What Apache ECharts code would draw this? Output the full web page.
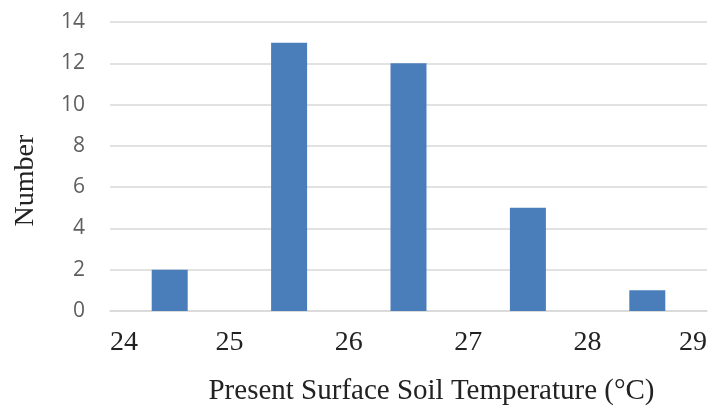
<!DOCTYPE html>
<html>
<head>
<meta charset="utf-8">
<script src="https://cdn.jsdelivr.net/npm/echarts@6/dist/echarts.min.js"></script>
<style>
  html, body { margin: 0; padding: 0; background: #fff; }
  #chart { width: 716px; height: 417px; }
</style>
</head>
<body>
<div id="chart"></div>
<script>
// bin centres (°C) and counts
const binCenters = [24.5, 25.5, 26.5, 27.5, 28.5];
const counts = [2, 13, 12, 5, 1];
const xTicks = [24, 25, 26, 27, 28, 29];
const yTicks = [0, 2, 4, 6, 8, 10, 12, 14];

const myChart = echarts.init(document.getElementById('chart'));
const option = {
    animation: false,
    grid: { left: 110, right: 9, top: 22, bottom: 106, outerBoundsMode: 'none' },
    xAxis: {
        type: 'value',
        min: xTicks[0],
        max: xTicks[xTicks.length - 1],
        interval: 1,
        name: 'Present Surface Soil Temperature (°C)',
        nameLocation: 'middle',
        nameGap: 66,
        nameTextStyle: { fontFamily: 'Liberation Serif', fontSize: 29, color: '#222', padding: [0, 0, 0, 46] },
        axisLine: { show: true, lineStyle: { color: '#d9d9d9', width: 1.5 } },
        axisTick: { show: false },
        splitLine: { show: false },
        axisLabel: {
            fontFamily: 'Liberation Serif', fontSize: 28, color: '#222', margin: 18,
            alignMinLabel: 'left', alignMaxLabel: 'right'
        }
    },
    yAxis: {
        type: 'value',
        min: yTicks[0],
        max: yTicks[yTicks.length - 1],
        interval: 2,
        name: 'Number',
        nameLocation: 'middle',
        nameGap: 70,
        nameTextStyle: { fontFamily: 'Liberation Serif', fontSize: 28, color: '#222', padding: [0, 28, 0, 0] },
        axisLine: { show: false },
        axisTick: { show: false },
        axisLabel: { fontFamily: 'Open Sans', fontSize: 21, color: '#5f5f5f', margin: 25 },
        splitLine: { lineStyle: { color: '#d9d9d9', width: 1.5 } }
    },
    series: [{
        type: 'bar',
        barWidth: 36,
        itemStyle: { color: '#4a7ebb' },
        data: binCenters.map((x, i) => [x, counts[i]])
    }]
};
myChart.setOption(option);
</script>
</body>
</html>
